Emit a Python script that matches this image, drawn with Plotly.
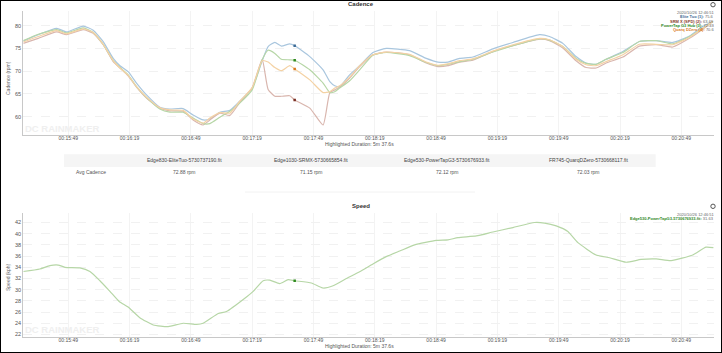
import plotly.graph_objects as go

W, H = 722, 353

# ---------- data ----------
cad_time = [927,934.3,943.3,948.2,956.3,961.2,966.1,971,974.3,978.3,982.4,987.3,993.8,998.7,1005.2,1010.1,1015,1018.3,
            1023.2,1028.1,1032.9,1039,1043.9,1046.8,1050.1,1053.3,1057.4,1059.8,1067.2,1073.7,1077,1079.4,1081.8,1086.7,1091.6,
            1098.1,1104.6,1116,1124.2,1129.9,1134.8,1140.5,1147,1156.8,1166.6,1179.6,1184.5,1191,1197.5,1202.4,1207.3,
            1212.2,1220.4,1228.5,1236.7,1244.8,1253,1259.5,1264.4]
elite = [76.6,78,79.4,78.6,79.9,79,76.5,72.8,71.2,69.9,67.4,64.8,62.1,61.7,61.8,60.4,59.3,59.5,
         61,61.4,63.4,66.3,72.3,75.4,76.3,75.5,76,75.6,73.2,70.3,67.7,66.8,66.6,69.2,71.2,
         74.1,75,74.5,72.8,72,72,72.8,73.1,74.9,76.3,78,77.6,76.1,73.2,71.8,71.5,
         72.6,74.3,76.5,76.7,76.3,77.7,79.8,80.9]
srm = [76.1,77.2,78.6,78,79.1,78.3,75.8,72.1,70.7,69,66.5,64.1,61.9,61.3,61.2,59.3,58.2,59.3,
       60.8,60.3,63.1,66.3,72.6,66,64.5,64.5,64.6,63.7,61.9,58.2,65.3,65.9,66.5,68.5,71,
       73.6,74.2,73.6,71.8,71,71.2,72,72.4,74.3,75.6,77,76.7,75.1,72.3,70.8,70.7,
       71.8,73.1,75.5,75.8,75.3,77.2,79.2,80.9]
powertap = [76.7,78.1,79.1,78.4,79.5,78.5,75.9,72.3,70.8,69.2,66.6,64.2,61.7,61,61,59.7,58.5,58.5,
            59.9,61.2,63,65.9,72.5,74.6,73.9,72.6,72.5,72.4,70.3,67.4,65.3,65.5,66.3,67.9,70.3,
            73.5,74.1,73.4,71.9,71.2,71.5,72.1,72.6,74.2,75.6,77.1,76.8,75.4,72.8,71.7,71.5,
            72.6,74.1,76.5,76.7,76,77.6,79.4,80.9]
quarq = [76.4,77.6,78.9,78.2,79.3,78.5,75.9,72.3,70.7,69.1,66.6,64.3,62,61.5,61.4,59.5,58.6,59.7,
         60.9,60.8,63.4,66.4,72.3,72,70.8,70.1,71.2,70.5,68.1,65.3,65.5,66.3,66.8,68.7,71.2,
         73.6,74.2,73.7,72,71.3,71.6,72.3,72.7,74.4,75.8,77.2,76.9,75.4,72.6,71.4,71.2,
         72.1,73.6,75.9,75.9,75.8,77.4,79.4,80.9]

spd_time = [927,935.1,940,944.1,947.4,954.7,959.6,964.5,969.4,973.9,978.3,984,990.6,997.9,1005.2,1011.8,1015,1022.4,
            1026.4,1036.2,1039.5,1044.4,1047.6,1052.5,1056.6,1059.8,1068,1073.7,1078.6,1085.1,1091.6,
            1098.1,1104.6,1111.2,1118.5,1129.1,1134.8,1139.7,1148.7,1156.8,1166.6,1177.2,1182.1,1187.8,1193.5,1198.4,
            1207.3,1213.9,1222,1229.3,1236.7,1244,1254.6,1261.1,1264.7]
speed = [33.25,33.7,34.3,34.4,34,33.9,33.25,31.6,29.7,27.9,26.9,25,23.7,23.4,24,23.8,24,25.75,
         26.1,28.7,29.7,31.6,31.7,31.1,31.8,31.6,31.2,30.3,30.7,32,33.2,
         34.6,35.9,36.9,38,38.8,38.9,39.3,39.6,40.3,41.1,42,41.9,41.4,40.4,38.4,
         36.2,35.7,34.9,35.4,35.5,35.2,36.2,37.6,37.5]

hover_time = 1059.8
hover_elite, hover_srm, hover_powertap, hover_quarq = 75.6, 63.7, 72.4, 70.5
hover_speed = 31.6

time_ticks = [949,979,1009,1039,1069,1099,1129,1159,1189,1219,1249]
time_labels = ["00:15:49","00:16:19","00:16:49","00:17:19","00:17:49","00:18:19","00:18:49",
               "00:19:19","00:19:49","00:20:19","00:20:49"]
cad_ticks = [60,65,70,75,80]
spd_ticks = [22,24,26,28,30,32,34,36,38,40,42]

files = ["Edge830-EliteTuo-5730737190.fit","Edge1030-SRMX-5730665854.fit",
         "Edge530-PowerTapG3-5730676933.fit","FR745-QuarqDZero-5730668117.fit"]
avg_cadence = ["72.88 rpm","71.15 rpm","72.12 rpm","72.03 rpm"]

# ---------- helpers ----------
FONT = "Liberation Sans"
TXT = "#555555"
def px(x): return x / W
def py(y): return 1 - y / H

anns, shapes = [], []
def text(x, y, s, size=5, color=TXT, anchor="center", angle=0):
    anns.append(dict(xref="paper", yref="paper", x=px(x), y=py(y), text=s, showarrow=False,
                     xanchor=anchor, yanchor="middle", textangle=angle,
                     font=dict(family=FONT, size=size, color=color), borderpad=0, borderwidth=0))
def rect(x0, y0, x1, y1, **kw):
    shapes.append(dict(type="rect", xref="paper", yref="paper", x0=px(x0), x1=px(x1), y0=py(y0), y1=py(y1), **kw))

fig = go.Figure()
styles = [("#a9c6de","#3d6b96",elite,hover_elite),
          ("#d9b6ae","#7a2f24",srm,hover_srm),
          ("#b6d6a6","#2f8a1f",powertap,hover_powertap),
          ("#f4d2a4","#d97a1f",quarq,hover_quarq)]
for line, mark, vals, hv in styles:
    fig.add_trace(go.Scatter(x=cad_time, y=vals, mode="lines", xaxis="x", yaxis="y",
                             line=dict(color=line, width=1.2, shape="spline", smoothing=0.5), hoverinfo="skip"))
for line, mark, vals, hv in styles:
    fig.add_trace(go.Scatter(x=[hover_time], y=[hv], mode="markers", xaxis="x", yaxis="y",
                             marker=dict(color=mark, size=2.5, symbol="square"), hoverinfo="skip"))
fig.add_trace(go.Scatter(x=spd_time, y=speed, mode="lines", xaxis="x2", yaxis="y2",
                         line=dict(color="#b6d6a6", width=1.2, shape="spline", smoothing=0.5), hoverinfo="skip"))
fig.add_trace(go.Scatter(x=[hover_time], y=[hover_speed], mode="markers", xaxis="x2", yaxis="y2",
                         marker=dict(color="#2f8a1f", size=2.5, symbol="square"), hoverinfo="skip"))

ax = dict(range=[927,1265], tickmode="array", tickvals=time_ticks, ticktext=time_labels,
          tickfont=dict(family=FONT, size=5, color=TXT), showgrid=True, gridcolor="#f3f3f3", gridwidth=1,
          showline=True, linecolor="#c8c8c8", linewidth=1, ticks="", ticklabelstandoff=-2,
          zeroline=False, domain=[px(23.3), px(714)])
ay = dict(tickmode="array", tickfont=dict(family=FONT, size=5.5, color=TXT), showgrid=True,
          gridcolor="#f1f1f1", gridwidth=1, griddash="dash", showline=True, linecolor="#c8c8c8", linewidth=1,
          ticks="", zeroline=False)

# watermarks
for y in (128.5, 329.5):
    anns.append(dict(xref="paper", yref="paper", x=px(24), y=py(y), text="<b>DC RAINMAKER</b>", showarrow=False,
                     xanchor="left", yanchor="middle",
                     font=dict(family=FONT, size=9.5, color="#efefef"), borderpad=0))

text(361, 4.3, "<b>Cadence</b>", 6, "#333333")
text(361, 206, "<b>Speed</b>", 6, "#333333")
text(8, 78, "Cadence (rpm)", 5, "#666666", angle=-90)
text(8, 277, "Speed (kph)", 5, "#666666", angle=-90)
text(359, 144.5, "Highlighted Duration: 5m 37.6s", 5)
text(359, 346, "Highlighted Duration: 5m 37.6s", 5)

# cadence read-out
text(714, 12.7, "2020/10/26 12:46:51", 4, "#666666", "right")
legend_rows = [(17, "#3d6b96", "Elite Tuo (1):", "75.6"), (21, "#8a3a2c", "SRM X (SPD) (2):", "63.69"),
               (25.3, "#2f8a1f", "PowerTap G3 Hub (3):", "72.43"), (29.3, "#d97a1f", "Quarq DZero (4):", "70.6")]
for y, c, name, val in legend_rows:
    text(714, y, f'<span style="color:{c}"><b>{name}</b></span> {val}', 4, "#666666", "right")
text(714, 214.3, "2020/10/26 12:46:51", 4, "#666666", "right")
text(714, 218.7, '<span style="color:#2f8a1f"><b>Edge530-PowerTapG3-5730676933.fit:</b></span> 31.63', 4, "#666666", "right")

# table
rect(64, 154.3, 655.7, 167, fillcolor="#f5f5f5", line=dict(width=0), layer="below")
for cx, f, v in zip([184, 311, 447, 588], files, avg_cadence):
    text(cx, 160.3, f, 5, "#444444")
    text(cx, 172.3, v, 5)
text(91, 172.3, "Avg Cadence", 5)
shapes.append(dict(type="line", xref="paper", yref="paper", x0=px(245), x1=px(475), y0=py(192), y1=py(192),
                   line=dict(color="#f2f2f2", width=1)))

# clock icons
for cy in (4.7, 206.3):
    shapes.append(dict(type="circle", xref="paper", yref="paper", x0=px(710.8), x1=px(715.2), y0=py(cy-2.2), y1=py(cy+2.2),
                       line=dict(color="#555555", width=1)))

# page frame
rect(0, 0, W, H, line=dict(color="#000000", width=2))

fig.update_layout(
    width=W, height=H, margin=dict(l=0, r=0, t=0, b=0), paper_bgcolor="white", plot_bgcolor="white",
    showlegend=False, annotations=anns, shapes=shapes,
    xaxis=dict(ax, anchor="y"),
    yaxis=dict(ay, range=[56, 83.2], tickvals=cad_ticks, domain=[py(135), py(11)], anchor="x"),
    xaxis2=dict(ax, anchor="y2"),
    yaxis2=dict(ay, range=[21.6, 43.7], tickvals=spd_ticks, domain=[py(336.7), py(213)], anchor="x2"),
)
fig.write_html("out.html", config=dict(displayModeBar=False),
               post_script="document.body.style.margin='0';document.documentElement.style.overflow='hidden';")
